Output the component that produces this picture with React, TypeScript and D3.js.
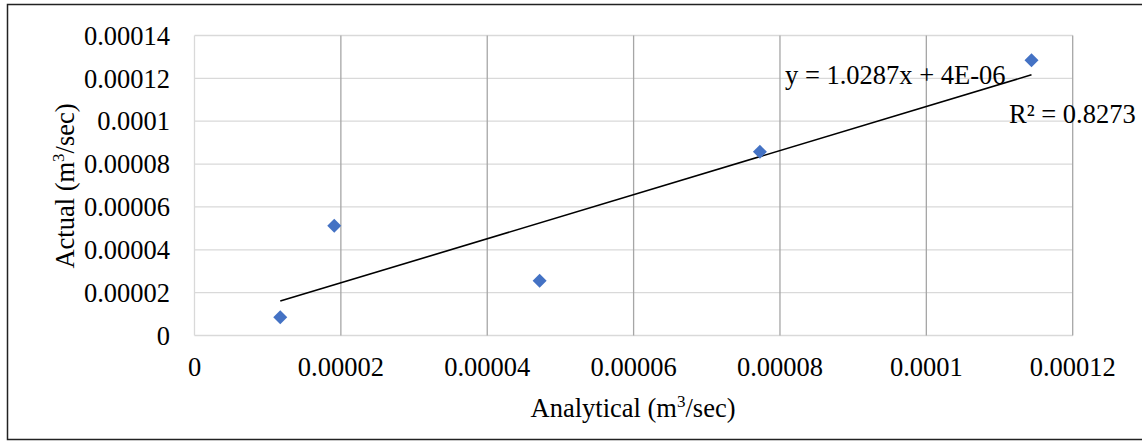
import React from "react";
import * as d3 from "d3";

const analytical = [1.172e-5, 1.91e-5, 4.716e-5, 7.726e-5, 1.1437e-4];
const actual = [8.5e-6, 5.12e-5, 2.56e-5, 8.57e-5, 1.284e-4];
const xTicks = [0, 0.00002, 0.00004, 0.00006, 0.00008, 0.0001, 0.00012];
const xTickLabels = ["0", "0.00002", "0.00004", "0.00006", "0.00008", "0.0001", "0.00012"];
const yTicks = [0, 0.00002, 0.00004, 0.00006, 0.00008, 0.0001, 0.00012, 0.00014];
const yTickLabels = ["0", "0.00002", "0.00004", "0.00006", "0.00008", "0.0001", "0.00012", "0.00014"];
const slope = 1.0287;
const intercept = 4e-6;
const equationText = "y = 1.0287x + 4E-06";
const r2Text = "R² = 0.8273";

const W = 1142;
const H = 443;
const FONT = "'Liberation Serif', 'Times New Roman', serif";
const FS = 26.5;

export default function App() {
  const x = d3.scaleLinear().domain([0, 0.00012]).range([194.5, 1072.7]);
  const y = d3.scaleLinear().domain([0, 0.00014]).range([335.5, 35.5]);
  const xMin = d3.min(analytical) as number;
  const xMax = d3.max(analytical) as number;
  const trend = d3
    .line<number>()
    .x((d) => x(d))
    .y((d) => y(slope * d + intercept));
  const diamond = d3.symbol().type(d3.symbolDiamond2).size(125)();

  return (
    <svg
      width={W}
      height={H}
      style={{ position: "absolute", left: 0, top: 0, background: "#fff" }}
      fontFamily={FONT}
    >
      <rect x={0} y={0} width={W} height={H} fill="#fff" />
      {/* outer border */}
      <path d={`M1150,4.5 H7.5 V439.5 H1150`} fill="none" stroke="#222" strokeWidth={1.5} />
      {/* horizontal gridlines */}
      {yTicks.map((t) => (
        <line key={"h" + t} x1={x(0)} x2={x(0.00012)} y1={y(t)} y2={y(t)} stroke="#d9d9d9" strokeWidth={1.3} />
      ))}
      {/* left border */}
      <line x1={x(0)} x2={x(0)} y1={y(0.00014)} y2={y(0)} stroke="#d9d9d9" strokeWidth={1.3} />
      {/* vertical gridlines */}
      {xTicks.slice(1).map((t) => (
        <line key={"v" + t} x1={x(t)} x2={x(t)} y1={y(0.00014)} y2={y(0)} stroke="#a6a6a6" strokeWidth={1.3} />
      ))}
      {/* trendline */}
      <path d={trend([xMin, xMax]) || ""} fill="none" stroke="#000" strokeWidth={1.6} />
      {/* points */}
      {analytical.map((a, i) => (
        <path key={"p" + i} d={diamond || ""} transform={`translate(${x(a)},${y(actual[i])})`} fill="#4472C4" />
      ))}
      {/* y tick labels */}
      {yTicks.map((t, i) => (
        <text key={"yl" + t} x={170} y={y(t)} dy="0.35em" textAnchor="end" fontSize={FS} fill="#000">
          {yTickLabels[i]}
        </text>
      ))}
      {/* x tick labels */}
      {xTicks.map((t, i) => (
        <text key={"xl" + t} x={x(t)} y={376} textAnchor="middle" fontSize={FS} fill="#000">
          {xTickLabels[i]}
        </text>
      ))}
      {/* axis titles */}
      <text x={633} y={417} textAnchor="middle" fontSize={FS} fill="#000">
        Analytical (m<tspan dy={-10} fontSize={17}>3</tspan>
        <tspan dy={10}>/sec)</tspan>
      </text>
      <text transform={`translate(74,186) rotate(-90)`} textAnchor="middle" fontSize={FS} fill="#000">
        Actual (m<tspan dy={-10} fontSize={17}>3</tspan>
        <tspan dy={10}>/sec)</tspan>
      </text>
      {/* equation labels */}
      <text x={785} y={84} fontSize={FS} fill="#000">{equationText}</text>
      <text x={1009} y={123} fontSize={FS} fill="#000">{r2Text}</text>
    </svg>
  );
}
